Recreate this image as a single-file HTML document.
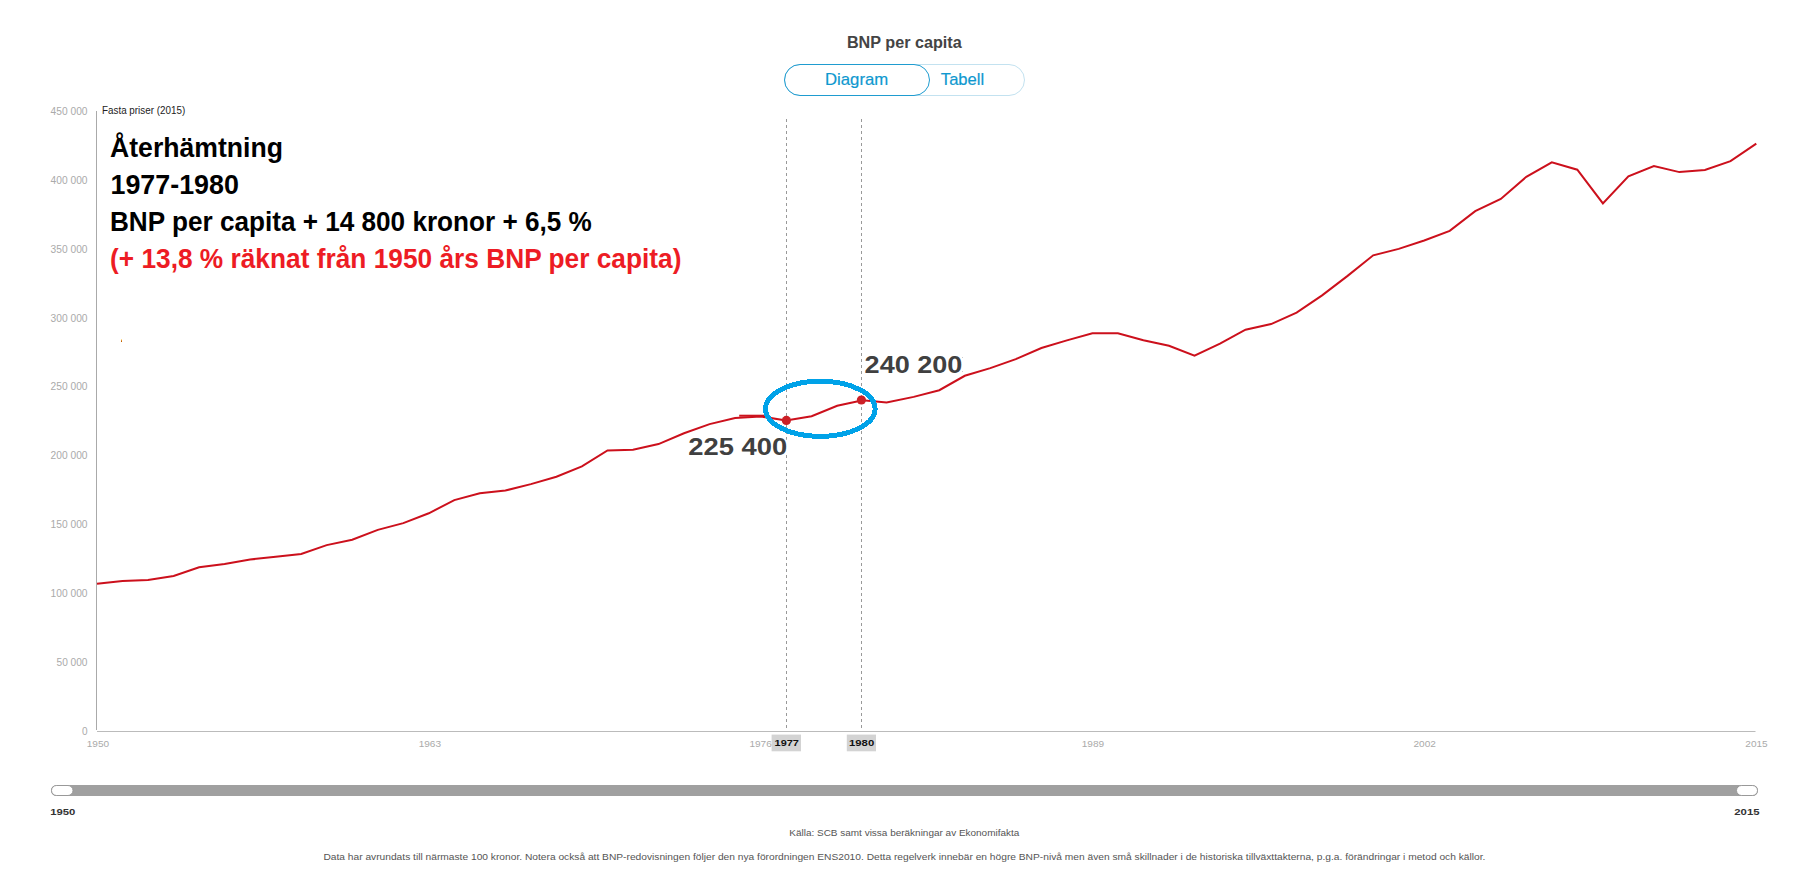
<!DOCTYPE html>
<html lang="sv">
<head>
<meta charset="utf-8">
<title>BNP per capita</title>
<style>
html,body{margin:0;padding:0;background:#fff;}
body{width:1794px;height:890px;overflow:hidden;position:relative;font-family:"Liberation Sans",Arial,sans-serif;}
.abs{position:absolute;}
#toggle{left:784px;top:64px;width:239px;height:30px;border:1px solid #c3e2f0;border-radius:16px;}
#active{left:784px;top:64px;width:144px;height:30px;border:1px solid #1f9cd0;border-radius:16px;}
svg{position:absolute;left:0;top:0;}
</style>
</head>
<body>
<div id="toggle" class="abs"></div>
<div id="active" class="abs"></div>
<svg width="1794" height="890" viewBox="0 0 1794 890" font-family="Liberation Sans, Arial, sans-serif">
  <!-- title -->
  <text x="904.3" y="47.9" text-anchor="middle" font-size="15.6" font-weight="bold" fill="#444" textLength="114.8" lengthAdjust="spacingAndGlyphs">BNP per capita</text>
  <!-- toggle labels -->
  <text x="856.6" y="85.1" text-anchor="middle" font-size="15.7" fill="#0f98cf" stroke="#0f98cf" stroke-width="0.2" textLength="63.2" lengthAdjust="spacingAndGlyphs">Diagram</text>
  <text x="962.5" y="85.1" text-anchor="middle" font-size="15.7" fill="#0f98cf" stroke="#0f98cf" stroke-width="0.2" textLength="43.3" lengthAdjust="spacingAndGlyphs">Tabell</text>

  <!-- y axis labels -->
  <g font-size="10" fill="#aaa" text-anchor="end">
    <text x="87.5" y="115.1" textLength="36.9" lengthAdjust="spacingAndGlyphs">450 000</text>
    <text x="87.5" y="183.9" textLength="36.9" lengthAdjust="spacingAndGlyphs">400 000</text>
    <text x="87.5" y="252.8" textLength="36.9" lengthAdjust="spacingAndGlyphs">350 000</text>
    <text x="87.5" y="321.6" textLength="36.9" lengthAdjust="spacingAndGlyphs">300 000</text>
    <text x="87.5" y="390.4" textLength="36.9" lengthAdjust="spacingAndGlyphs">250 000</text>
    <text x="87.5" y="459.3" textLength="36.9" lengthAdjust="spacingAndGlyphs">200 000</text>
    <text x="87.5" y="528.1" textLength="36.9" lengthAdjust="spacingAndGlyphs">150 000</text>
    <text x="87.5" y="596.9" textLength="36.9" lengthAdjust="spacingAndGlyphs">100 000</text>
    <text x="87.5" y="665.8" textLength="31" lengthAdjust="spacingAndGlyphs">50 000</text>
    <text x="87.5" y="734.6">0</text>
  </g>
  <text x="102" y="114" font-size="10" fill="#222" textLength="83.2" lengthAdjust="spacingAndGlyphs">Fasta priser (2015)</text>

  <!-- axes -->
  <line x1="96.5" y1="111" x2="96.5" y2="730" stroke="#aaa" stroke-width="1"/>
  <line x1="97" y1="731.5" x2="1755.5" y2="731.5" stroke="#bbb" stroke-width="1"/>

  <!-- x axis labels -->
  <g font-size="9.2" fill="#aaa" text-anchor="middle">
    <text x="97.9" y="746.9" textLength="22.4" lengthAdjust="spacingAndGlyphs">1950</text>
    <text x="429.85" y="746.9" textLength="22.4" lengthAdjust="spacingAndGlyphs">1963</text>
    <text x="760.6" y="746.9" textLength="22.4" lengthAdjust="spacingAndGlyphs">1976</text>
    <text x="1092.9" y="746.9" textLength="22.4" lengthAdjust="spacingAndGlyphs">1989</text>
    <text x="1424.7" y="746.9" textLength="22.4" lengthAdjust="spacingAndGlyphs">2002</text>
    <text x="1756.5" y="746.9" textLength="22.4" lengthAdjust="spacingAndGlyphs">2015</text>
  </g>
  <rect x="771.6" y="734.6" width="29.4" height="16.7" fill="#d3d3d3"/>
  <rect x="846.8" y="734.6" width="29.2" height="16.7" fill="#d3d3d3"/>
  <g font-size="9.3" font-weight="bold" fill="#111" text-anchor="middle">
    <text x="786.75" y="746.2" textLength="24.3" lengthAdjust="spacingAndGlyphs">1977</text>
    <text x="861.6" y="746.2" textLength="25.2" lengthAdjust="spacingAndGlyphs">1980</text>
  </g>

  <!-- dashed markers -->
  <line x1="786.5" y1="119" x2="786.5" y2="728" stroke="#999" stroke-width="1" stroke-dasharray="3 3"/>
  <line x1="861.5" y1="119" x2="861.5" y2="728" stroke="#999" stroke-width="1" stroke-dasharray="3 3"/>

  <!-- data line -->
  <polyline fill="none" stroke="#cc101c" stroke-width="2" stroke-linejoin="miter" transform="translate(0,0.3)" points="97.0,583.4 122.5,580.6 148.0,579.7 173.6,575.7 199.1,566.9 224.6,563.6 250.1,559.2 275.7,556.5 301.2,553.6 326.7,544.8 352.2,539.4 377.8,529.6 403.3,522.8 428.8,513.0 454.3,499.8 479.8,493.0 505.4,490.2 530.9,483.8 556.4,476.4 581.9,466.1 607.5,450.2 633.0,449.4 658.5,443.8 684.0,433.0 709.6,423.8 735.1,417.8 760.6,416.1 786.1,420.3 811.6,415.9 837.2,405.4 862.7,400.0 886.6,402.3 913.7,396.6 939.3,389.9 964.8,375.5 990.3,367.8 1015.8,358.8 1041.4,347.7 1066.9,340.1 1092.4,332.9 1117.9,332.9 1143.4,339.9 1169.0,345.5 1194.5,355.3 1220.0,343.4 1245.5,329.4 1271.1,323.8 1296.6,312.3 1322.1,295.1 1347.6,275.6 1373.2,255.0 1398.7,248.6 1424.2,240.2 1449.7,230.6 1475.2,210.8 1500.8,198.6 1526.3,176.5 1551.8,162.0 1577.3,169.4 1602.9,203.1 1628.4,176.1 1653.9,165.8 1679.4,171.8 1704.9,169.6 1730.5,160.8 1756.3,143.4"/>

  <!-- markers -->
  <circle cx="786.4" cy="420.4" r="4.6" fill="#cc2027"/>
  <circle cx="861.4" cy="400" r="4.6" fill="#cc2027"/>
  <rect x="739.2" y="414.7" width="25" height="2" fill="#cc141e"/>
  <ellipse cx="820.3" cy="408.8" rx="54.8" ry="27.6" fill="none" stroke="#00a2e8" stroke-width="5" shape-rendering="crispEdges"/>

  <!-- value labels -->
  <rect x="784" y="439.7" width="5" height="15.1" fill="#fff"/>
  <g font-size="24" font-weight="bold" fill="#404040">
    <text x="864.6" y="373" textLength="97.8" lengthAdjust="spacingAndGlyphs">240 200</text>
    <text x="688.3" y="455" textLength="98.9" lengthAdjust="spacingAndGlyphs">225 400</text>
  </g>

  <rect x="962" y="357" width="1" height="1" fill="#ccc"/><rect x="962" y="371" width="1" height="1" fill="#ccc"/>
  <!-- annotation -->
  <g font-size="27.4" font-weight="bold" fill="#000">
    <text x="110" y="157" textLength="173" lengthAdjust="spacingAndGlyphs">Återhämtning</text>
    <text x="110.5" y="193.8" textLength="128.4" lengthAdjust="spacingAndGlyphs">1977-1980</text>
    <text x="110" y="231" textLength="481.8" lengthAdjust="spacingAndGlyphs">BNP per capita + 14 800 kronor + 6,5 %</text>
    <text x="110" y="267.5" textLength="571.4" lengthAdjust="spacingAndGlyphs" fill="#ed1c24">(+ 13,8 % räknat från 1950 års BNP per capita)</text>
  </g>
  <rect x="121" y="339" width="1" height="1" fill="#ffd98a"/><rect x="121" y="340" width="1" height="1" fill="#dc8a2a"/><rect x="121" y="341" width="1" height="1" fill="#c06000"/>

  <!-- slider -->
  <rect x="51" y="785" width="1707" height="11" rx="5.5" fill="#a0a0a0"/>
  <rect x="51.5" y="785.5" width="21.5" height="10" rx="5" fill="#fff" stroke="#999" stroke-width="1"/>
  <rect x="1736.5" y="785.5" width="21" height="10" rx="5" fill="#fff" stroke="#999" stroke-width="1"/>
  <g font-size="9.4" font-weight="bold" fill="#333" text-anchor="middle">
    <text x="62.8" y="815.2" textLength="25.2" lengthAdjust="spacingAndGlyphs">1950</text>
    <text x="1746.9" y="815.3" textLength="25.2" lengthAdjust="spacingAndGlyphs">2015</text>
  </g>

  <!-- footer -->
  <text x="904.3" y="836" text-anchor="middle" font-size="9" fill="#555" textLength="230" lengthAdjust="spacingAndGlyphs">Källa: SCB samt vissa beräkningar av Ekonomifakta</text>
  <text x="904.4" y="859.6" text-anchor="middle" font-size="9" fill="#555" textLength="1162" lengthAdjust="spacingAndGlyphs">Data har avrundats till närmaste 100 kronor. Notera också att BNP-redovisningen följer den nya förordningen ENS2010. Detta regelverk innebär en högre BNP-nivå men även små skillnader i de historiska tillväxttakterna, p.g.a. förändringar i metod och källor.</text>
</svg>
</body>
</html>
